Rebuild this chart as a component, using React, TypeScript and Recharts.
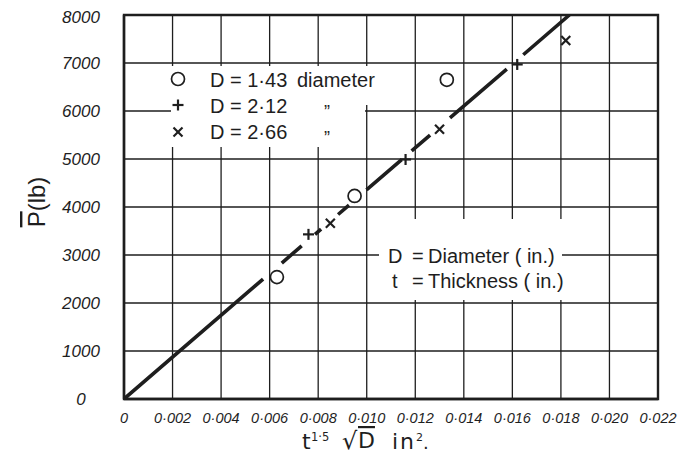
import React from 'react';
import {
  ComposedChart,
  Line,
  Scatter,
  XAxis,
  YAxis,
  CartesianGrid,
  ReferenceArea,
} from 'recharts';

// axis ticks
const xTicks = [0, 0.002, 0.004, 0.006, 0.008, 0.01, 0.012, 0.014, 0.016, 0.018, 0.02, 0.022];
const xTickLabels = ['0', '0·002', '0·004', '0·006', '0·008', '0·010', '0·012', '0·014', '0·016', '0·018', '0·020', '0·022'];
const yTicks = [0, 1000, 2000, 3000, 4000, 5000, 6000, 7000, 8000];
const yTickLabels = ['0', '1000', '2000', '3000', '4000', '5000', '6000', '7000', '8000'];

// measured points, one list per diameter
const circleX = [0.0063, 0.0095, 0.0133];
const circleY = [2540, 4230, 6650];
const plusX = [0.0076, 0.0116, 0.0162];
const plusY = [3430, 4990, 6970];
const crossX = [0.0085, 0.013, 0.0182];
const crossY = [3660, 5620, 7470];

// fitted line, broken where it passes the points (null = gap)
const fitX = [0, 0.00573, 0.0061, 0.0065, 0.00732, 0.0076, 0.00787, 0.00812, 0.0085, 0.00882, 0.00927, 0.0096, 0.00999, 0.01144, 0.0116, 0.01185, 0.01261, 0.013, 0.01343, 0.01577, 0.0161, 0.01645, 0.01835];
const fitY = [0, 2497, null, 2833, 3192, null, 3430, 3538, null, 3844, 4041, null, 4355, 4987, null, 5167, 5497, null, 5856, 6874, null, 7172, 8000];

const INK = '#1e1e1e';
const W = 670;
const H = 450;

const circleData = circleX.map((x, i) => ({ x, y: circleY[i] }));
const plusData = plusX.map((x, i) => ({ x, y: plusY[i] }));
const crossData = crossX.map((x, i) => ({ x, y: crossY[i] }));
const fitData = fitX.map((x, i) => ({ x, y: fitY[i] }));

const CircleMark = ({ cx, cy }: any) => (
  <circle cx={cx} cy={cy} r={6.5} fill="#fff" stroke={INK} strokeWidth={1.7} />
);

const PlusMark = ({ cx, cy }: any) => (
  <g stroke={INK} strokeWidth={2.2}>
    <line x1={cx - 5.5} y1={cy} x2={cx + 5.5} y2={cy} />
    <line x1={cx} y1={cy - 5.5} x2={cx} y2={cy + 5.5} />
  </g>
);

const CrossMark = ({ cx, cy }: any) => (
  <g stroke={INK} strokeWidth={2.2}>
    <line x1={cx - 4.5} y1={cy - 4.5} x2={cx + 4.5} y2={cy + 4.5} />
    <line x1={cx - 4.5} y1={cy + 4.5} x2={cx + 4.5} y2={cy - 4.5} />
  </g>
);

const XTick = ({ x, y, payload }: any) => {
  const i = xTicks.findIndex((t) => Math.abs(t - payload.value) < 1e-9);
  return (
    <text x={x} y={y + 7} textAnchor="middle" dominantBaseline="central"
      fontFamily="Liberation Sans" fontStyle="italic" fontSize={14.5} fill={INK}>
      {xTickLabels[i]}
    </text>
  );
};

const YTick = ({ x, y, payload }: any) => {
  const i = yTicks.indexOf(payload.value);
  return (
    <text x={x} y={y} textAnchor="middle" dominantBaseline="central"
      fontFamily="Liberation Sans" fontStyle="italic" fontSize={17} fill={INK}>
      {yTickLabels[i]}
    </text>
  );
};

const txt = { fontFamily: 'Liberation Sans', fontSize: 20, fill: INK };

export default function App() {
  return (
    <div style={{ position: 'relative', width: W, height: H, background: '#fff' }}>
      <ComposedChart width={W} height={H} margin={{ top: 7, right: 20, bottom: 29, left: 56 }}>
        <CartesianGrid stroke={INK} strokeWidth={1.3} />
        <XAxis
          type="number"
          dataKey="x"
          domain={[0, 0.022]}
          ticks={xTicks}
          allowDataOverflow
          height={30}
          tickSize={0}
          tickMargin={12}
          tickLine={false}
          axisLine={{ stroke: INK, strokeWidth: 2.4 }}
          tick={<XTick />}
        />
        <YAxis
          type="number"
          dataKey="y"
          domain={[0, 8000]}
          ticks={yTicks}
          allowDataOverflow
          width={60}
          tickSize={0}
          tickMargin={43}
          tickLine={false}
          axisLine={{ stroke: INK, strokeWidth: 2.4 }}
          tick={<YTick />}
        />
        <ReferenceArea x1={0} x2={0.022} y1={0} y2={8000} fill="none" stroke={INK} strokeWidth={2.4} />
        <Line
          data={fitData}
          dataKey="y"
          type="linear"
          stroke={INK}
          strokeWidth={3.6}
          dot={false}
          activeDot={false}
          connectNulls={false}
          isAnimationActive={false}
        />
        <Scatter data={circleData} shape={<CircleMark />} isAnimationActive={false} />
        <Scatter data={plusData} shape={<PlusMark />} isAnimationActive={false} />
        <Scatter data={crossData} shape={<CrossMark />} isAnimationActive={false} />
      </ComposedChart>

      <svg width={W} height={H} style={{ position: 'absolute', left: 0, top: 0, pointerEvents: 'none' }}>
        {/* white panels that break the grid behind the key and the note */}
        <rect x={163} y={58} width={194} height={81} fill="#fff" />
        <rect x={357} y={58} width={13} height={39} fill="#fff" />
        <rect x={371} y={211} width={183} height={81} fill="#fff" />

        {/* key */}
        <CircleMark cx={170} cy={71} />
        <PlusMark cx={170} cy={97} />
        <CrossMark cx={170} cy={124} />
        <text x={202} y={79} {...txt}>D = 1·43</text>
        <text x={289} y={79} {...txt}>diameter</text>
        <text x={202} y={105} {...txt}>D = 2·12</text>
        <text x={202} y={131} {...txt}>D = 2·66</text>
        <text x={319} y={110} {...txt} fontSize={18} textAnchor="middle">”</text>
        <text x={319} y={136} {...txt} fontSize={18} textAnchor="middle">”</text>

        {/* note */}
        <text x={380} y={255} {...txt}>D</text>
        <text x={404} y={255} {...txt}>=</text>
        <text x={420} y={255} {...txt}>Diameter ( in.)</text>
        <text x={384} y={280} {...txt}>t</text>
        <text x={404} y={280} {...txt}>=</text>
        <text x={420} y={280} {...txt}>Thickness ( in.)</text>

        {/* y title */}
        <text x={28} y={194} transform="rotate(-90 28 194)" textAnchor="middle" dominantBaseline="central"
          fontFamily="Liberation Sans" fontSize={24} fill={INK}>
          <tspan style={{ textDecoration: 'overline' }}>P</tspan>(lb)
        </text>

        {/* x title */}
        <g fontFamily="DejaVu Sans" fill={INK}>
          <text x={294} y={441} fontSize={22}>t</text>
          <text x={303} y={433} fontSize={11.5}>1·5</text>
          <text x={334} y={441} fontSize={24}>√</text>
          <text x={350} y={440} fontSize={22} style={{ textDecoration: 'overline' }}>D</text>
          <text x={384} y={441} fontSize={22} letterSpacing={2}>
            in<tspan fontSize={11} dy={-8} letterSpacing={0}>2</tspan><tspan fontSize={18} dy={8} letterSpacing={0}>.</tspan>
          </text>
        </g>
      </svg>
    </div>
  );
}
